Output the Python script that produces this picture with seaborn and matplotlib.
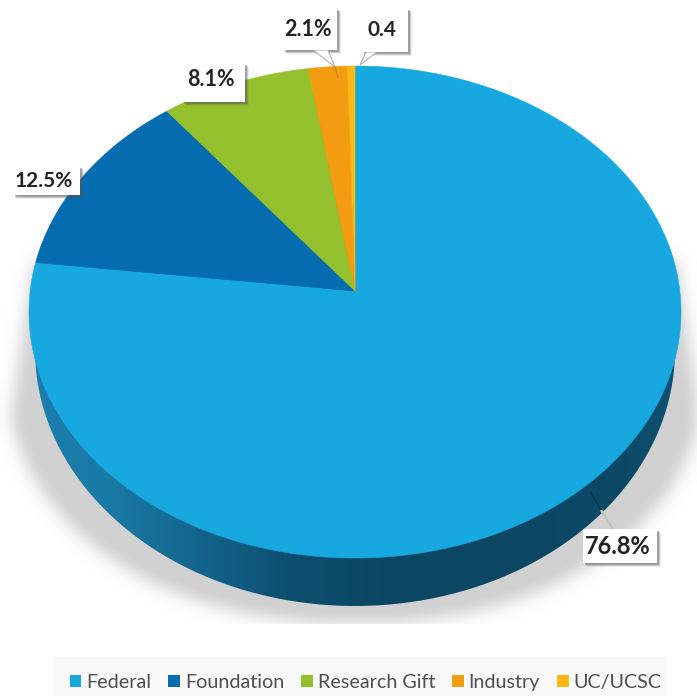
import numpy as np
import matplotlib
matplotlib.use("Agg")
import matplotlib.pyplot as plt
from matplotlib.colors import LinearSegmentedColormap
from matplotlib.patches import Patch, PathPatch, Polygon, Rectangle
from matplotlib.path import Path
import seaborn as sns

# Research funding by source, percent
categories = ["Federal", "Foundation", "Research Gift", "Industry", "UC/UCSC"]
shares = [76.8, 12.5, 8.1, 2.1, 0.4]
share_labels = ["76.8%", "12.5%", "8.1%", "2.1%", "0.4"]
slice_colors = ["#17a8e0", "#056cb0", "#93c02c", "#f39c12", "#fdb813"]

# Axes run in figure pixels, with y pointing down
WIDTH, HEIGHT = 697, 696
APEX = (355.0, 291.0)
DISC_A, DISC_B, TILT = 324.8, 244.2, 0.0854
RIM_CENTER_Y, RIM_A, RIM_B = 350.0, 320.0, 256.0

# box (left, top, right, bottom), text centre, font size, white pointer
callouts = {
    "76.8%": ((583, 529, 657, 563), (618, 546), 17, None),
    "12.5%": ((13, 166, 80, 195), (44, 181), 15, None),
    "8.1%": ((182, 63, 245, 102), (211, 80), 15.5, None),
    "2.1%": ((283, 8, 337, 50), (308, 30), 15.5, [(313, 50), (328, 50), (335, 67)]),
    "0.4": ((362, 8, 408, 52), (382, 30), 15, [(377, 52), (366, 52), (360, 65)]),
}
# thin leader lines: x pair, y pair, colour, width
leaders = [
    ((601, 613), (510, 529), "#c9c2bc", 1.8),
    ((590, 601), (491, 510), "#07334a", 0.9),
    ((335, 338), (67, 78), "#c9830f", 0.9),
]


def project(theta):
    """Perspective view of a unit circle, clockwise from twelve o'clock."""
    u, v = np.sin(theta), np.cos(theta)
    d = 1 + TILT * v
    return APEX[0] + DISC_A * u / d, APEX[1] - DISC_B * v / d


def soft_shadow():
    """Gray drop shadow under the disc, blurred at its edges."""
    yy, xx = np.mgrid[0:HEIGHT, 0:WIDTH]
    inside = (np.abs(xx - 355) / 350.0) ** 2.15 + (np.abs(yy - 365) / 258.0) ** 2.15 <= 1
    slant = np.abs(xx - 355) <= 322 + (yy - 265) * 23 / 155
    mask = (inside & slant & (yy >= 262)).astype(float)
    t = np.arange(-30, 31)
    kernel = np.exp(-t**2 / (2 * 8.0**2))
    kernel /= kernel.sum()
    mask = np.apply_along_axis(lambda r: np.convolve(r, kernel, "same"), 1, mask)
    mask = np.apply_along_axis(lambda c: np.convolve(c, kernel, "same"), 0, mask)
    mask[yy > 623] = 0
    rgba = np.zeros((HEIGHT, WIDTH, 4))
    rgba[..., :3] = 0.82
    rgba[..., 3] = np.clip(mask * 1.05, 0, 1)
    return rgba


sns.set_theme(style="white")
plt.rcParams["font.family"] = ["Lato", "DejaVu Sans"]
palette = sns.color_palette(slice_colors)

fig = plt.figure(figsize=(WIDTH / 100, HEIGHT / 100), dpi=100)
ax = fig.add_axes([0, 0, 1, 1])

ax.imshow(soft_shadow(), extent=(0, WIDTH, HEIGHT, 0), aspect="auto", zorder=1)

# Rim of the disc, shaded from left to right
rim_cmap = LinearSegmentedColormap.from_list(
    "rim",
    [(0.0, "#1a80b0"), (0.15, "#1a7aa6"), (0.3, "#12628a"), (0.42, "#0c4d6e"),
     (0.6, "#0b4662"), (0.9, "#0c4966"), (1.0, "#0f5476")],
)
angles = np.linspace(0, 2 * np.pi, 361)
rim_path = Path(
    np.column_stack(
        [APEX[0] + RIM_A * np.sin(angles), RIM_CENTER_Y + RIM_B * np.cos(angles)]
    )
)
rim = ax.imshow(
    np.linspace(0, 1, WIDTH)[None, :],
    extent=(0, WIDTH, HEIGHT, 0),
    cmap=rim_cmap,
    aspect="auto",
    zorder=2,
)
rim.set_clip_path(PathPatch(rim_path, transform=ax.transData))

# Slices on the top face
edges = 2 * np.pi * np.cumsum([0] + shares) / sum(shares)
for start, stop, color in zip(edges[:-1], edges[1:], palette):
    arc = np.linspace(start, stop, max(int((stop - start) * 120), 4))
    x, y = project(arc)
    ax.fill(np.r_[APEX[0], x], np.r_[APEX[1], y], color=color, lw=0.4, zorder=3)

for xs, ys, color, width in leaders:
    ax.plot(xs, ys, color=color, lw=width, solid_capstyle="butt", zorder=3.5)

# Percentage callouts
for text in share_labels:
    (x0, y0, x1, y1), (tx, ty), size, pointer = callouts[text]
    for off, alpha in [(4, 0.10), (3, 0.22), (2, 0.38)]:
        ax.add_patch(Rectangle((x0 + off, y0 + off), x1 - x0, y1 - y0,
                               fc="#555555", ec="none", alpha=alpha, zorder=4))
    ax.add_patch(Rectangle((x0, y0), x1 - x0, y1 - y0, fc="white", ec="none", zorder=5))
    if pointer:
        ax.add_patch(Polygon(pointer, closed=True, fc="white", ec="#a8a8a8",
                             lw=0.7, zorder=4.5))
    ax.text(tx, ty, text, ha="center", va="center", fontsize=size, color="#222222",
            fontweight="bold", zorder=6)

# Legend on a faint band along the bottom
ax.add_patch(Rectangle((53, 657), 614, 39, fc="#f9f9f9", ec="none", zorder=1))
handles = [Patch(fc=c, ec="none", label=n) for c, n in zip(palette, categories)]
ax.legend(
    handles=handles,
    ncol=5,
    loc="center",
    bbox_to_anchor=(365.5, 682.5),
    bbox_transform=ax.transData,
    frameon=False,
    fontsize=14.2,
    labelcolor="#4f4f4f",
    handlelength=0.6,
    handleheight=0.6,
    handletextpad=0.25,
    columnspacing=0.85,
    borderpad=0,
)

ax.set_xlim(0, WIDTH)
ax.set_ylim(HEIGHT, 0)
ax.axis("off")
fig.savefig("out.png", dpi=100, facecolor="white")
